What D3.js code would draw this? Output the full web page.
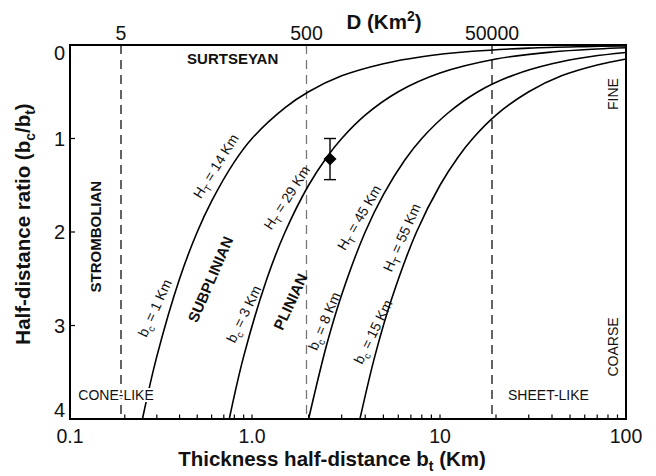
<!DOCTYPE html>
<html>
<head>
<meta charset="utf-8">
<script src="https://cdn.jsdelivr.net/npm/d3@7"></script>
<style>
  body { margin: 0; background: #fff; }
  text { font-family: Arial, "Liberation Sans", sans-serif; fill: #111; }
</style>
</head>
<body>
<svg id="chart" width="656" height="476"></svg>
<script>
// bc/bt curves as [bt (km), bc/bt]
const curve1 = [[0.25,4],[0.3,3.33],[0.4,2.5],[0.5,2],[0.6,1.67],[0.8,1.25],[1,1],[1.5,0.67],[2,0.5],[3,0.33],[5,0.2],[8,0.125],[15,0.067],[30,0.033],[60,0.017],[100,0.01]];
const curve3 = [[0.75,4],[0.9,3.33],[1.2,2.5],[1.5,2],[2,1.5],[2.5,1.2],[3,1],[4,0.75],[6,0.5],[10,0.3],[20,0.15],[40,0.075],[70,0.043],[100,0.03]];
const curve8 = [[2,4],[2.5,3.2],[3,2.67],[4,2],[5,1.6],[6.5,1.23],[8,1],[11,0.73],[16,0.5],[25,0.32],[40,0.2],[65,0.123],[100,0.08]];
const curve15 = [[3.75,4],[4.5,3.33],[5.5,2.73],[7.5,2],[10,1.5],[12.5,1.2],[15,1],[20,0.75],[30,0.5],[45,0.33],[70,0.214],[100,0.15]];
const curves = [curve1, curve3, curve8, curve15];

// observed deposit with error range
const point = {bt: 2.6, ratio: 1.22, lo: 1.0, hi: 1.44};

// area boundaries D (km2) shown on top axis
const areaTicks = [5, 500, 50000];
const areaColors = ['#111', '#777', '#111'];

const xTickLabels = [[0.1,'0.1'],[1,'1.0'],[10,'10'],[100,'100']];
const yTicks = [0, 1, 2, 3, 4];

// curve labels: [bt, ratio, angle, main, sub, rest]
const curveLabels = [
  [0.632, 1.294, -58, 'H', 'T', ' = 14 Km'],
  [1.53, 1.631, -57, 'H', 'T', ' = 29 Km'],
  [3.71, 1.845, -59.5, 'H', 'T', ' = 45 Km'],
  [6.25, 2.059, -66, 'H', 'T', ' = 55 Km'],
  [0.292, 2.813, -65, 'b', 'c', ' = 1 Km'],
  [0.90, 2.877, -64, 'b', 'c', ' = 3 Km'],
  [2.42, 2.952, -67, 'b', 'c', ' = 8 Km'],
  [4.40, 3.066, -63.5, 'b', 'c', ' = 15 Km']
];

// eruption-type labels: [bt, ratio, angle, text]
const typeLabels = [
  [0.783, 0.15, 0, 'SURTSEYAN'],
  [0.139, 2.05, -90, 'STROMBOLIAN'],
  [0.591, 2.506, -66.5, 'SUBPLINIAN'],
  [1.60, 2.745, -65, 'PLINIAN']
];

// small annotations: [bt, ratio, angle, text]
const noteLabels = [
  [0.179, 3.743, 0, 'CONE-LIKE'],
  [38.3, 3.743, 0, 'SHEET-LIKE'],
  [84.7, 0.524, -90, 'FINE'],
  [84.7, 3.23, -90, 'COARSE']
];

const svg = d3.select('#chart');
const mLeft = 70, mRight = 626, mTop = 45, mBottom = 419;

const x = d3.scaleLog().domain([0.1, 1, 10, 100]).range([mLeft, 252, 440, mRight]);
const xArea = d3.scaleLog().domain([5, 50000]).range([121, 492]);
const y = d3.scaleLinear().domain([0, 4]).range([mTop, mBottom]);

// dashed area boundaries
svg.append('g')
  .selectAll('line')
  .data(areaTicks)
  .join('line')
    .attr('x1', d => xArea(d)).attr('x2', d => xArea(d))
    .attr('y1', mTop).attr('y2', mBottom)
    .attr('stroke', (d, i) => areaColors[i])
    .attr('stroke-width', 1.3)
    .attr('stroke-dasharray', '9,6');

// curves
const line = d3.line()
  .x(d => x(d[0]))
  .y(d => y(d[1]))
  .curve(d3.curveCatmullRom.alpha(0.5));

svg.append('g')
  .selectAll('path')
  .data(curves)
  .join('path')
    .attr('d', line)
    .attr('fill', 'none')
    .attr('stroke', '#000')
    .attr('stroke-width', 1.6);

// frame
svg.append('rect')
  .attr('x', mLeft).attr('y', mTop)
  .attr('width', mRight - mLeft).attr('height', mBottom - mTop)
  .attr('fill', 'none').attr('stroke', '#000').attr('stroke-width', 2);

// x ticks (inside)
const minor = [];
[0.1, 1, 10].forEach(dec => { for (let k = 2; k <= 10; k++) minor.push(dec * k); });
svg.append('g')
  .selectAll('line')
  .data(minor.filter(v => v < 100))
  .join('line')
    .attr('x1', d => x(d)).attr('x2', d => x(d))
    .attr('y1', mBottom).attr('y2', mBottom - 4.5)
    .attr('stroke', '#000').attr('stroke-width', 1.2);

svg.append('g')
  .selectAll('text')
  .data(xTickLabels)
  .join('text')
    .attr('x', d => x(d[0]))
    .attr('y', 443)
    .attr('text-anchor', 'middle')
    .attr('font-size', 19.5)
    .text(d => d[1]);

// y ticks (inside)
svg.append('g')
  .selectAll('line')
  .data(yTicks.filter(d => d > 0 && d < 4))
  .join('line')
    .attr('x1', mLeft).attr('x2', mLeft + 5)
    .attr('y1', d => y(d)).attr('y2', d => y(d))
    .attr('stroke', '#000').attr('stroke-width', 1.2);

svg.append('g')
  .selectAll('text')
  .data(yTicks)
  .join('text')
    .attr('x', 65)
    .attr('y', d => y(d) + (d === 0 ? 8 : d === 4 ? -9 : 0))
    .attr('dy', '0.36em')
    .attr('text-anchor', 'end')
    .attr('font-size', 20)
    .text(d => d);

// top axis labels
svg.append('g')
  .selectAll('text')
  .data(areaTicks)
  .join('text')
    .attr('x', d => xArea(d))
    .attr('y', 40)
    .attr('text-anchor', 'middle')
    .attr('font-size', 19.5)
    .text(d => d);

// rich text helper: parts = [[text, 'sub'|'sup'|null]]
function rich(sel, parts, size) {
  let shift = 0;
  parts.forEach(([t, kind]) => {
    const target = kind === 'sub' ? size * 0.22 : kind === 'sup' ? -size * 0.4 : 0;
    sel.append('tspan')
      .attr('dy', target - shift)
      .attr('font-size', kind ? size * 0.68 : size)
      .text(t);
    shift = target;
  });
}

// axis titles
const xt = svg.append('text')
  .attr('x', 332).attr('y', 466)
  .attr('text-anchor', 'middle').attr('font-weight', 'bold');
rich(xt, [['Thickness half-distance b', null], ['t', 'sub'], [' (Km)', null]], 20.5);

const yt = svg.append('text')
  .attr('transform', 'translate(30,224) rotate(-90)')
  .attr('text-anchor', 'middle').attr('font-weight', 'bold');
rich(yt, [['Half-distance ratio (b', null], ['c', 'sub'], ['/b', null], ['t', 'sub'], [')', null]], 20.5);

const tt = svg.append('text')
  .attr('x', 384).attr('y', 29)
  .attr('text-anchor', 'middle').attr('font-weight', 'bold');
rich(tt, [['D (Km', null], ['2', 'sup'], [')', null]], 20.5);

// curve labels
curveLabels.forEach(([bt, r, a, m, s, rest]) => {
  const t = svg.append('text')
    .attr('transform', `translate(${x(bt)},${y(r)}) rotate(${a})`)
    .attr('text-anchor', 'middle');
  t.append('tspan').attr('font-size', 14).attr('dy', 5).text(m);
  t.append('tspan').attr('font-size', 10).attr('dy', 4).text(s);
  t.append('tspan').attr('font-size', 14).attr('dy', -4).text(rest);
});

// eruption types
svg.append('g')
  .selectAll('text')
  .data(typeLabels)
  .join('text')
    .attr('transform', d => `translate(${x(d[0])},${y(d[1])}) rotate(${d[2]})`)
    .attr('text-anchor', 'middle')
    .attr('dy', '0.36em')
    .attr('font-weight', 'bold')
    .attr('font-size', 15)
    .text(d => d[3]);

// notes (white halo hides the dashes behind them)
svg.append('g')
  .selectAll('text')
  .data(noteLabels)
  .join('text')
    .attr('transform', d => `translate(${x(d[0])},${y(d[1])}) rotate(${d[2]})`)
    .attr('text-anchor', 'middle')
    .attr('dy', '0.36em')
    .attr('font-size', 14)
    .attr('stroke', '#fff')
    .attr('stroke-width', 4)
    .attr('paint-order', 'stroke')
    .text(d => d[3]);

// data point with error bar
const px = x(point.bt);
const eb = svg.append('g').attr('stroke', '#000').attr('stroke-width', 1.4);
eb.append('line').attr('x1', px).attr('x2', px).attr('y1', y(point.lo)).attr('y2', y(point.hi));
eb.append('line').attr('x1', px - 6).attr('x2', px + 6).attr('y1', y(point.lo)).attr('y2', y(point.lo));
eb.append('line').attr('x1', px - 6).attr('x2', px + 6).attr('y1', y(point.hi)).attr('y2', y(point.hi));
svg.append('path')
  .attr('d', d3.symbol(d3.symbolSquare, 85)())
  .attr('transform', `translate(${px},${y(point.ratio)}) rotate(45)`)
  .attr('fill', '#000');
</script>
</body>
</html>
